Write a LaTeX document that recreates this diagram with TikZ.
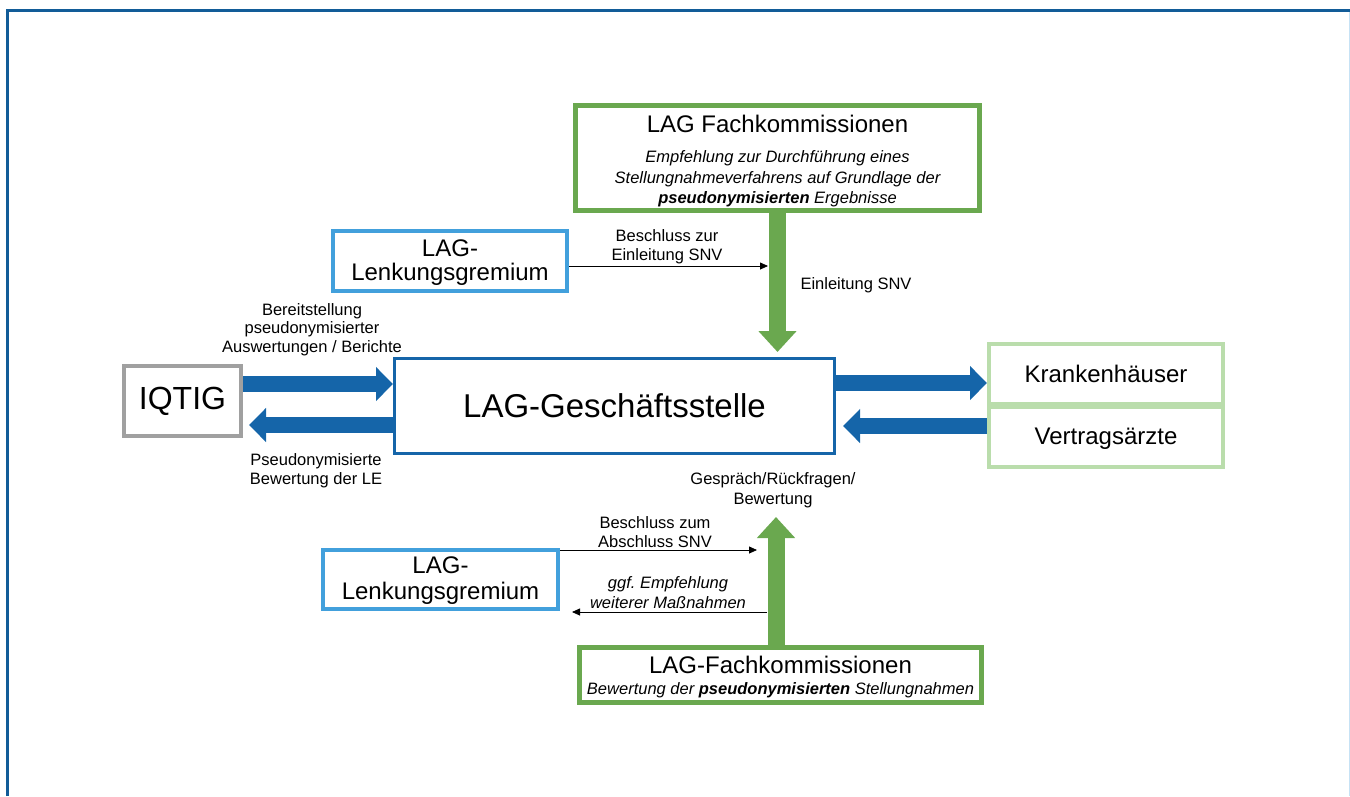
\documentclass[tikz,border=0pt]{standalone}
\usepackage{fontspec}
\setmainfont{Liberation Sans}
\usetikzlibrary{arrows.meta}
\definecolor{framecol}{RGB}{18,92,152}
\definecolor{lagblue}{RGB}{21,101,169}
\definecolor{lightblue}{RGB}{66,160,220}
\definecolor{laggreen}{RGB}{106,168,79}
\definecolor{palegreen}{RGB}{186,221,172}
\definecolor{iqgray}{RGB}{160,160,160}
\frenchspacing
\begin{document}
\begin{tikzpicture}[x=1pt,y=-1pt,
    box/.style={draw, inner sep=0pt, align=center},
    big/.style={font=\fontsize{24}{24.5}\selectfont},
    note/.style={font=\fontsize{16.5}{19.5}\selectfont, align=center},
    fatblue/.style={draw=lagblue, line width=16pt, -{Triangle[length=17pt,width=33pt]}},
    fatgreen/.style={draw=laggreen, line width=17pt, -{Triangle[length=21pt,width=37pt]}},
    slim/.style={draw=black, line width=0.8pt, -{Triangle[length=8pt,width=7pt]}}]
  \useasboundingbox (0,0) rectangle (1350,796);
  % frame
  \draw[framecol, line width=3pt] (7.5,796) -- (7.5,10.5) -- (1350,10.5);
  \draw[lightblue!30, line width=1pt] (1349,12) -- (1349,796);
  % boxes
  \node[box, draw=laggreen, line width=5pt, minimum width=404pt, minimum height=105pt] (fk1) at (777.5,158) {};
  \node[big] (fk1title) at (777.5,124) {LAG Fachkommissionen};
  \node[note, font=\fontsize{16.5}{20.5}\selectfont\itshape] (fk1text) at (777.5,179)
    {Empfehlung zur Durchführung eines\\Stellungnahmeverfahrens auf Grundlage der\\\textbf{pseudonymisierten} Ergebnisse};
  \node[box, big, draw=lightblue, line width=4pt, minimum width=234pt, minimum height=60pt, text depth=2pt] (lg1) at (450,261) {LAG-\\Lenkungsgremium};
  \node[box, draw=lagblue, line width=3pt, minimum width=440pt, minimum height=95pt,
    font=\fontsize{33}{33}\selectfont] (gs) at (614.5,406) {LAG-Geschäftsstelle};
  \node[box, draw=iqgray, line width=4pt, minimum width=117pt, minimum height=70pt,
    font=\fontsize{32}{32}\selectfont] (iqtig) at (182.5,401) {IQTIG};
  \node[box, big, draw=palegreen, line width=4pt, minimum width=234pt, minimum height=60pt] (kh) at (1106,374) {Krankenhäuser};
  \node[box, big, draw=palegreen, line width=4pt, minimum width=234pt, minimum height=60pt, text depth=1pt] (vt) at (1106,437) {Vertragsärzte};
  \node[box, big, draw=lightblue, line width=4pt, minimum width=235pt, minimum height=59pt, text depth=2pt,
    font=\fontsize{24}{26}\selectfont] (lg2) at (440.5,579.5) {LAG-\\Lenkungsgremium};
  \node[box, draw=laggreen, line width=5pt, minimum width=402pt, minimum height=55pt] (fk2) at (780.5,675) {};
  \node[big] (fk2title) at (780.5,665) {LAG-Fachkommissionen};
  \node[note] (fk2text) at (780.5,690) {\itshape Bewertung der \textbf{pseudonymisierten} Stellungnahmen};
  % helper points
  \coordinate (r1) at (0,384);
  \coordinate (r2) at (0,425);
  \coordinate (r3) at (0,383);
  \coordinate (r4) at (0,426);
  \coordinate (a0) at (768,266);
  \coordinate (a1) at (757,550);
  \coordinate (a2) at (767,612);
  \coordinate (gtip) at (776,517);
  % connectors
  \draw[fatgreen, shorten >=5pt] (fk1.south) -- (fk1.south |- gs.north);
  \draw[fatgreen] (gtip |- fk2.north) -- (gtip);
  \draw[fatblue] (iqtig.east |- r1) -- (gs.west |- r1);
  \draw[fatblue, shorten >=6pt] (gs.west |- r2) -- (iqtig.east |- r2);
  \draw[fatblue] (gs.east |- r3) -- (kh.west |- r3);
  \draw[fatblue, shorten >=7pt] (vt.west |- r4) -- (gs.east |- r4);
  \draw[slim] (lg1.east |- a0) -- (a0);
  \draw[slim] (lg2.east |- a1) -- (a1);
  \draw[slim, shorten >=12pt] (a2) -- (lg2.east |- a2);
  % labels
  \node[note] (l1) at (667,246.5) {Beschluss zur\\Einleitung SNV};
  \node[note, anchor=west] (l2) at (797,285) {Einleitung SNV};
  \node[note, font=\fontsize{16.5}{18.5}\selectfont] (l3) at (312,329.5) {Bereitstellung\\pseudonymisierter\\Auswertungen / Berichte};
  \node[note] (l4) at (316,470.5) {Pseudonymisierte\\Bewertung der LE};
  \node[note] (l5) at (773,490) {Gespräch/Rückfragen/\\Bewertung};
  \node[note] (l6) at (655,532) {Beschluss zum\\Abschluss SNV};
  \node[note, font=\fontsize{16.5}{20.5}\selectfont\itshape] (l7) at (668,592.5) {ggf. Empfehlung\\weiterer Maßnahmen};
\end{tikzpicture}
\end{document}
